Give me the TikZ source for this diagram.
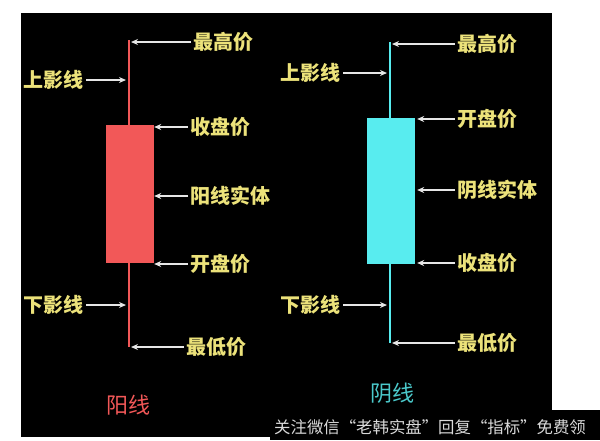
\documentclass[tikz,border=0pt]{standalone}
\usepackage{fontspec}
\newfontfamily\cjk{Noto Sans CJK SC}
\usepackage{xcolor}
\usetikzlibrary{arrows.meta,positioning}
\definecolor{lblyellow}{HTML}{ECE27A}
\definecolor{ptrgray}{HTML}{E6E6E6}
\definecolor{yangred}{HTML}{F25858}
\definecolor{yincyan}{HTML}{58ECEF}

\begin{document}
\begin{tikzpicture}[
    x=1pt,y=-1pt,
    lbl/.style={font=\cjk\bfseries\fontsize{20}{20}\selectfont,text=lblyellow,inner sep=0pt,anchor=west},
    ptr/.style={draw=ptrgray,line width=1.5pt,shorten <=2pt,-{Stealth[length=7pt,width=6pt]}},
    body/.style={rectangle,inner sep=0pt,minimum width=48pt},
    title/.style={font=\cjk\fontsize{22}{22}\selectfont,inner sep=0pt},
]
\useasboundingbox (0,0) rectangle (600,440);
\fill[white] (0,0) rectangle (600,440);
\fill[black] (21,13) rectangle (552,437);
\fill[black] (270,410) rectangle (600,440);

% red candle
\coordinate (rhi) at (129,40);
\coordinate (rlo) at (129,347);
\draw[yangred,line width=2pt] (rhi) -- (rlo);
\node[body,fill=yangred,minimum height=138pt] (rb) at (130,194) {};
\node[lbl] (rhigh) at (193,42) {最高价};
\node[lbl,anchor=east] (rupper) at (84,80) {上影线};
\node[lbl] (rclose) at (190,127) {收盘价};
\node[lbl] (rsolid) at (190,196) {阳线实体};
\node[lbl] (ropen) at (190,264) {开盘价};
\node[lbl,anchor=east] (rlower) at (84,305) {下影线};
\node[lbl] (rlow) at (186,347) {最低价};
\draw[ptr] (rhigh.west) -- ([xshift=2pt]rhigh.west -| rhi);
\draw[ptr] (rupper.east) -- ([xshift=-3pt]rupper.east -| rhi);
\draw[ptr] (rclose.west) -- (rclose.west -| rb.east);
\draw[ptr] (rsolid.west) -- (rsolid.west -| rb.east);
\draw[ptr] (ropen.west) -- (ropen.west -| rb.east);
\draw[ptr] (rlower.east) -- ([xshift=-3pt]rlower.east -| rlo);
\draw[ptr] (rlow.west) -- ([xshift=2pt]rlow.west -| rlo);
\node[title,text=yangred] (yang) at (128,405) {阳线};

% cyan candle
\coordinate (chi) at (390,42);
\coordinate (clo) at (390,343);
\draw[yincyan,line width=2.5pt] (chi) -- (clo);
\node[body,fill=yincyan,minimum height=146pt] (cb) at (391,191) {};
\node[lbl] (chigh) at (457,44) {最高价};
\node[lbl,anchor=east] (cupper) at (341,73) {上影线};
\node[lbl] (copen) at (457,119) {开盘价};
\node[lbl] (csolid) at (457,190) {阴线实体};
\node[lbl] (cclose) at (457,263) {收盘价};
\node[lbl,anchor=east] (clower) at (341,305) {下影线};
\node[lbl] (clow) at (457,343) {最低价};
\draw[ptr] (chigh.west) -- ([xshift=2pt]chigh.west -| chi);
\draw[ptr] (cupper.east) -- ([xshift=-3pt]cupper.east -| chi);
\draw[ptr] (copen.west) -- ([xshift=2pt]copen.west -| cb.east);
\draw[ptr] (csolid.west) -- ([xshift=2pt]csolid.west -| cb.east);
\draw[ptr] (cclose.west) -- ([xshift=2pt]cclose.west -| cb.east);
\draw[ptr] (clower.east) -- ([xshift=-3pt]clower.east -| clo);
\draw[ptr] (clow.west) -- ([xshift=2pt]clow.west -| clo);
\node[title,text=yincyan!85!black] (yin) at (392,393) {阴线};

% footer note
\node[font=\cjk\fontsize{16.4}{16.4}\selectfont,text=white!85!black,inner sep=0pt,anchor=west] (note) at (274,427) {关注微信“老韩实盘”回复“指标”免费领};
\end{tikzpicture}
\end{document}
